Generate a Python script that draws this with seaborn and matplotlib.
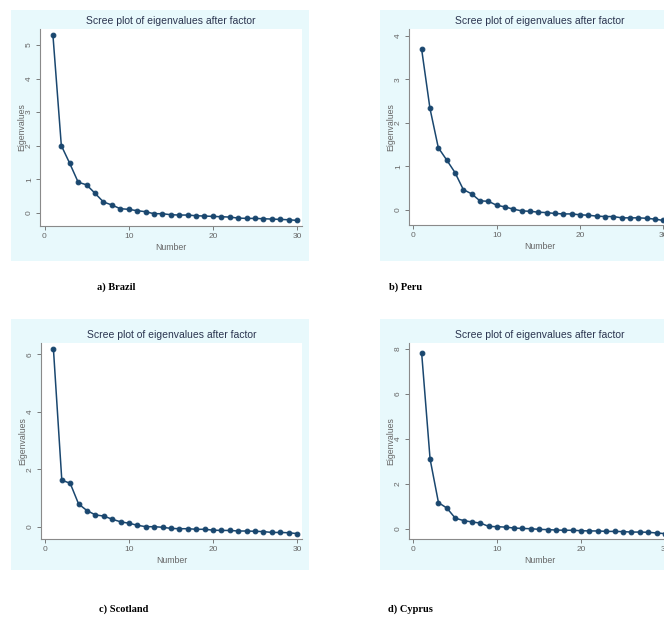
import matplotlib
matplotlib.use("Agg")
import matplotlib.pyplot as plt
import seaborn as sns
import pandas as pd
import numpy as np
from matplotlib.patches import Rectangle

# ---- data ----
number = list(range(1, 31))
brazil = [5.30, 2.00, 1.47, 0.91, 0.83, 0.58, 0.32, 0.23, 0.12, 0.10,
          0.06, 0.03, -0.03, -0.03, -0.06, -0.07, -0.07, -0.09, -0.10, -0.11,
          -0.12, -0.13, -0.16, -0.17, -0.17, -0.18, -0.19, -0.20, -0.21, -0.23]
peru = [3.69, 2.33, 1.43, 1.15, 0.86, 0.47, 0.37, 0.21, 0.20, 0.11,
        0.07, 0.02, -0.02, -0.03, -0.05, -0.06, -0.08, -0.09, -0.09, -0.11,
        -0.12, -0.14, -0.15, -0.15, -0.18, -0.18, -0.18, -0.19, -0.21, -0.24]
scotland = [6.20, 1.62, 1.51, 0.79, 0.56, 0.41, 0.37, 0.26, 0.17, 0.12,
            0.05, 0.00, 0.00, -0.02, -0.06, -0.07, -0.07, -0.09, -0.09, -0.12,
            -0.13, -0.13, -0.15, -0.15, -0.16, -0.17, -0.20, -0.20, -0.21, -0.24]
cyprus = [7.80, 3.10, 1.16, 0.92, 0.47, 0.36, 0.30, 0.25, 0.10, 0.09,
          0.07, 0.03, 0.01, 0.00, -0.03, -0.04, -0.06, -0.07, -0.07, -0.09,
          -0.10, -0.10, -0.12, -0.12, -0.13, -0.15, -0.15, -0.16, -0.19, -0.22]
captions = ["a) Brazil", "b) Peru", "c) Scotland", "d) Cyprus"]
title = "Scree plot of eigenvalues after factor"
yticks_list = [[0, 1, 2, 3, 4, 5], [0, 1, 2, 3, 4], [0, 2, 4, 6], [0, 2, 4, 6, 8]]
xticks = [0, 10, 20, 30]

sns.set_theme(style="white")
plt.rcParams["font.family"] = ["Liberation Sans Narrow", "Liberation Sans", "DejaVu Sans"]

W, H = 664, 617
fig = plt.figure(figsize=(W / 100, H / 100), dpi=100)
fig.patch.set_facecolor("white")

BG = "#E8F9FC"
LINE = "#1A476F"
TXT = "#2B3550"
GRAY = "#666666"

bgax = fig.add_axes([0, 0, 1, 1], zorder=-5)
bgax.set_xlim(0, W)
bgax.set_ylim(H, 0)
bgax.axis("off")

layouts = [
    dict(bg=(11, 309, 10, 261), box=(40, 302, 29, 226), xa=(44.5, 297), ya=(212.7, 45.0), cap=(116, 287)),
    dict(bg=(380, 678, 10, 261), box=(409, 671, 29, 225), xa=(413.3, 663.3), ya=(210.0, 35.7), cap=(406, 287)),
    dict(bg=(11, 309, 319, 570), box=(41, 302, 343, 539), xa=(45, 297), ya=(526.7, 354.3), cap=(124, 609)),
    dict(bg=(380, 678, 319, 570), box=(409, 671, 343, 539), xa=(413.3, 665), ya=(528.7, 349.0), cap=(410, 609)),
]
series = [brazil, peru, scotland, cyprus]

for lay, vals, yt, cap in zip(layouts, series, yticks_list, captions):
    bx0, bx1, by0, by1 = lay["bg"]
    bgax.add_patch(Rectangle((bx0, by0), bx1 - bx0, by1 - by0, facecolor=BG, edgecolor="none"))
    x0, x1, yt0, yb = lay["box"]
    ax = fig.add_axes([x0 / W, 1 - yb / H, (x1 - x0) / W, (yb - yt0) / H], zorder=1)
    ax.set_facecolor("white")
    df = pd.DataFrame({"Number": number, "Eigenvalues": vals})
    sns.lineplot(data=df, x="Number", y="Eigenvalues", ax=ax, color=LINE, linewidth=1.1,
                 marker="o", markersize=3.4, markeredgecolor=LINE, markerfacecolor=LINE)
    px0, px30 = lay["xa"]
    sx = (px30 - px0) / 30.0
    ax.set_xlim(-(px0 - x0) / sx, 30 + (x1 - px30) / sx)
    py0, pytop = lay["ya"]
    ymaxt = yt[-1]
    sy = (py0 - pytop) / ymaxt
    ax.set_ylim(-(yb - py0) / sy, ymaxt + (pytop - yt0) / sy)
    ax.set_xticks(xticks)
    ax.set_yticks(yt)
    ax.set_xticklabels([str(v) for v in xticks])
    ax.set_yticklabels([str(v) for v in yt], rotation=90, va="center")
    ax.tick_params(axis="both", direction="out", length=3, width=0.6, color=GRAY,
                   labelsize=6, labelcolor=GRAY, pad=2, bottom=True, left=True)
    for s in ["top", "right"]:
        ax.spines[s].set_visible(False)
    for s in ["left", "bottom"]:
        ax.spines[s].set_color("#8A8A8A")
        ax.spines[s].set_linewidth(0.8)
    ax.set_xlabel("Number", fontsize=6.3, color=GRAY, labelpad=2)
    ax.set_ylabel("Eigenvalues", fontsize=6.3, color=GRAY, labelpad=0)
    ax.grid(False)
    fig.text(((x0 + x1) / 2) / W, 1 - (yt0 - 8) / H, title, ha="center", va="center",
             fontsize=7.5, color=TXT, zorder=2)
    cx, cy = lay["cap"]
    fig.text(cx / W, 1 - cy / H, cap, ha="center", va="center", fontsize=7.5,
             fontweight="bold", family=["Liberation Serif", "DejaVu Serif"], color="black")

fig.savefig("out.png", dpi=100, facecolor="white")
